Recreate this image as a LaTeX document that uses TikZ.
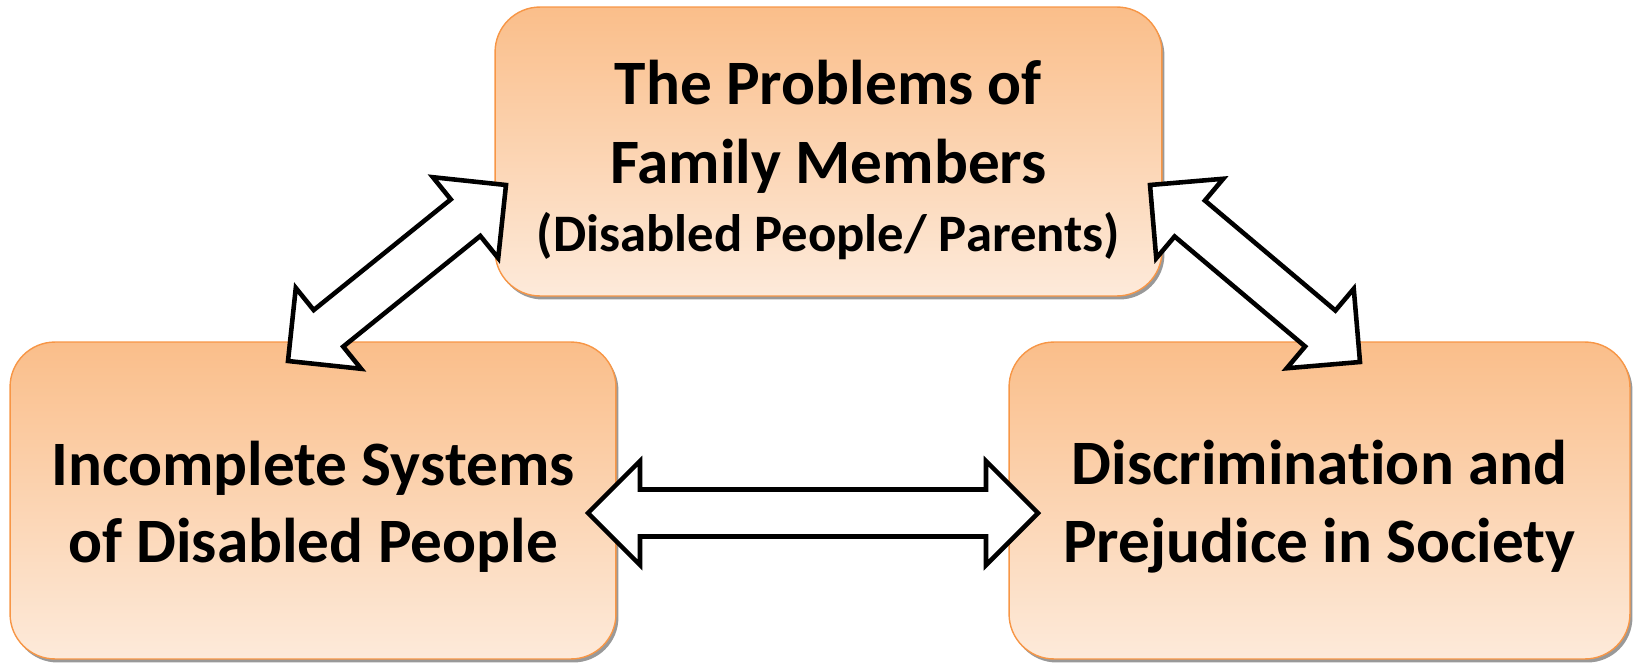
\documentclass[tikz,border=0pt]{standalone}
\usepackage{fontspec}
\setmainfont[Ligatures=CommonOff]{Carlito}
\usetikzlibrary{calc,shadows}
\definecolor{boxtop}{RGB}{250,190,138}
\definecolor{boxbottom}{RGB}{253,234,218}
\definecolor{boxline}{RGB}{247,150,70}
% block arrow with a head at both ends, from tip #1 to tip #2
\newcommand{\dblarrow}[2]{%
  \draw[fat arrow] (#1)
    -- ($(#1)!1.04cm!(#2)!1.04cm!90:(#2)$)
    -- ($(#1)!1.04cm!(#2)!0.47cm!90:(#2)$)
    -- ($(#2)!1.04cm!(#1)!0.47cm!-90:(#1)$)
    -- ($(#2)!1.04cm!(#1)!1.04cm!-90:(#1)$)
    -- (#2)
    -- ($(#2)!1.04cm!(#1)!1.04cm!90:(#1)$)
    -- ($(#2)!1.04cm!(#1)!0.47cm!90:(#1)$)
    -- ($(#1)!1.04cm!(#2)!0.47cm!-90:(#2)$)
    -- ($(#1)!1.04cm!(#2)!1.04cm!-90:(#2)$)
    -- cycle;}
\begin{document}
\begin{tikzpicture}[x=0.02cm,y=-0.02cm]
  \tikzstyle{box}=[rounded corners=0.9cm,draw=boxline,line width=0.8pt,
    top color=boxtop,bottom color=boxbottom,
    drop shadow={shadow xshift=0.05cm,shadow yshift=-0.07cm,fill=black!50,opacity=0.8}]
  \tikzstyle{box text}=[align=center,inner sep=0pt,font=\bfseries\fontsize{36}{44}\selectfont]
  \tikzstyle{fat arrow}=[draw=black,fill=white,line width=2.6pt,line join=miter]
  \useasboundingbox (0,0) rectangle (1636,663);
  \node(fam)[box,minimum width=13.34cm,minimum height=5.78cm] at (828.5,151.5) {};
  \node(inc)[box,minimum width=12.12cm,minimum height=6.34cm] at (313,500.5) {};
  \node(dis)[box,minimum width=12.42cm,minimum height=6.34cm] at (1319.5,500.5) {};
  \node(fam text)[box text] at ([yshift=-0.17cm]fam.center)
    {The Problems of\\[1pt]
     Family Members\\[-5pt]
     {\fontsize{30}{36}\selectfont(Disabled People/ Parents)}};
  \node(inc text)[box text] at ([yshift=-0.12cm]inc.center)
    {Incomplete Systems\\of Disabled People};
  \node(dis text)[box text] at ([yshift=-0.12cm]dis.center)
    {Discrimination and\\Prejudice in Society};
  % arrow tips
  \coordinate(fl) at (506,185);
  \coordinate(il) at (288,361);
  \coordinate(fr) at (1150,185);
  \coordinate(dr) at (1360,362);
  \coordinate(ih) at (588,513);
  \coordinate(dh) at (1038,513);
  \dblarrow{fl}{il}
  \dblarrow{fr}{dr}
  \dblarrow{ih}{dh}
\end{tikzpicture}
\end{document}
